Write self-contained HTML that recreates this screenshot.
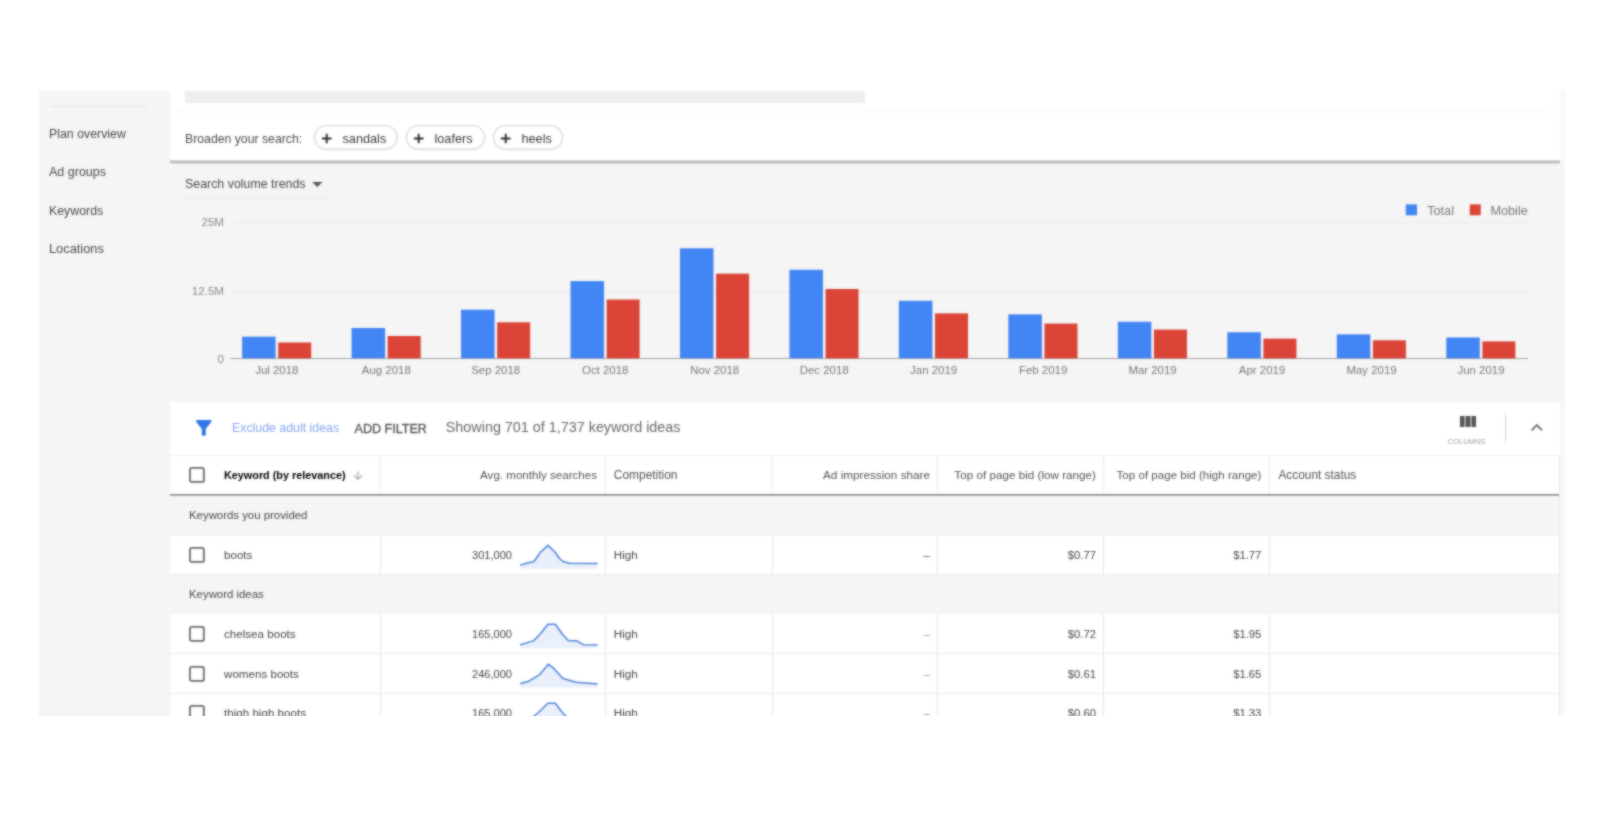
<!DOCTYPE html>
<html><head><meta charset="utf-8"><title>Keyword Planner</title>
<style>
html,body{margin:0;padding:0;background:#fff;}
body{width:1600px;height:840px;position:relative;overflow:hidden;font-family:"Liberation Sans",sans-serif;}
.s{position:absolute;left:0;top:0;width:1600px;height:840px;overflow:hidden;background:#fff;}
.s>div,.s>svg{position:absolute;box-sizing:content-box;}
.t{white-space:nowrap;}
#a{filter:blur(1px);}
#b{opacity:0.34;}
</style></head><body>
<div class="s" id="a">
<div style="left:38.50px;top:91.00px;width:1526.30px;height:625.00px;background:#f5f5f5;"></div>
<div style="left:170.00px;top:91.00px;width:1390.00px;height:70.00px;background:#fff;"></div>
<div style="left:1560.00px;top:92.00px;width:4.80px;height:69.00px;background:#fafafa;"></div>
<div style="left:185.00px;top:91.00px;width:680.00px;height:11.60px;background:#eeeeee;"></div>
<div style="left:170.00px;top:107.50px;width:1380.00px;height:6.50px;background:#fdfdfd;"></div>
<div style="left:170.00px;top:160.00px;width:1390.00px;height:3.50px;background:linear-gradient(#e4e4e4,#b4b4b4 45%,#c8c8c8 75%,#efefef);"></div>
<div style="left:169.50px;top:163.00px;width:1.00px;height:553.00px;background:#fbfbfb;"></div>
<div style="left:51.00px;top:105.50px;width:96.50px;height:1.00px;background:#e6e6e6;"></div>
<div class="t" style="top:124px;height:20px;line-height:20px;font-size:12.35px;color:#4c4c4c;left:49.00px;">Plan overview</div>
<div class="t" style="top:162px;height:20px;line-height:20px;font-size:12.5px;color:#4c4c4c;left:49.00px;">Ad groups</div>
<div class="t" style="top:201px;height:20px;line-height:20px;font-size:12.35px;color:#4c4c4c;left:49.00px;">Keywords</div>
<div class="t" style="top:238px;height:21px;line-height:21px;font-size:12.8px;color:#4c4c4c;left:49.00px;">Locations</div>
<div class="t" style="top:129px;height:20px;line-height:20px;font-size:12.25px;color:#4c4c4c;left:185.00px;">Broaden your search:</div>
<svg style="left:312px;top:122.5px" width="87.5" height="30" viewBox="0 0 87.5 30"><rect x="2.5" y="2.9" width="82.5" height="23.6" rx="12" fill="none" stroke="#000" stroke-opacity="0.05" stroke-width="2.4"/><rect x="2.5" y="2.5" width="82.5" height="23.6" rx="12" fill="#fff" stroke="#d4d4d4" stroke-width="1"/><path d="M9.9 15.5h9.6M14.7 10.8v9.4" stroke="#2c2c2c" stroke-width="1.9" fill="none"/></svg>
<div class="t" style="top:129px;height:20px;line-height:20px;font-size:12.7px;color:#3c3c3c;left:342.50px;">sandals</div>
<svg style="left:404px;top:122.5px" width="83" height="30" viewBox="0 0 83 30"><rect x="2.5" y="2.9" width="78" height="23.6" rx="12" fill="none" stroke="#000" stroke-opacity="0.05" stroke-width="2.4"/><rect x="2.5" y="2.5" width="78" height="23.6" rx="12" fill="#fff" stroke="#d4d4d4" stroke-width="1"/><path d="M9.9 15.5h9.6M14.7 10.8v9.4" stroke="#2c2c2c" stroke-width="1.9" fill="none"/></svg>
<div class="t" style="top:129px;height:20px;line-height:20px;font-size:12.7px;color:#3c3c3c;left:434.50px;">loafers</div>
<svg style="left:491px;top:122.5px" width="74" height="30" viewBox="0 0 74 30"><rect x="2.5" y="2.9" width="69" height="23.6" rx="12" fill="none" stroke="#000" stroke-opacity="0.05" stroke-width="2.4"/><rect x="2.5" y="2.5" width="69" height="23.6" rx="12" fill="#fff" stroke="#d4d4d4" stroke-width="1"/><path d="M9.9 15.5h9.6M14.7 10.8v9.4" stroke="#2c2c2c" stroke-width="1.9" fill="none"/></svg>
<div class="t" style="top:129px;height:20px;line-height:20px;font-size:12.7px;color:#3c3c3c;left:521.50px;">heels</div>
<div class="t" style="top:174px;height:20px;line-height:20px;font-size:12.4px;color:#4c4c4c;left:185.00px;">Search volume trends</div>
<svg style="left:312.2px;top:181.9px" width="11" height="6" viewBox="0 0 11 6"><path d="M0.2 0h10.2L5.3 5.1z" fill="#555"/></svg>
<div style="left:184.00px;top:198.00px;width:146.00px;height:1.00px;background:#e6e6e6;"></div>
<div style="left:233.00px;top:221.60px;width:1295.00px;height:1.20px;background:#ebebeb;"></div>
<div style="left:233.00px;top:290.90px;width:1295.00px;height:1.30px;background:#eaeaea;"></div>
<div style="left:230.00px;top:357.80px;width:1298.00px;height:1.20px;background:#a4a4a4;"></div>
<div class="t" style="top:212px;height:20px;line-height:20px;font-size:11.6px;color:#8a8a8a;right:1376.00px;">25M</div>
<div class="t" style="top:281px;height:20px;line-height:20px;font-size:11.6px;color:#8a8a8a;right:1376.00px;">12.5M</div>
<div class="t" style="top:349px;height:20px;line-height:20px;font-size:11.6px;color:#8a8a8a;right:1376.00px;">0</div>
<div class="t" style="top:360px;height:20px;line-height:20px;font-size:11.45px;color:#7a7a7a;left:126.80px;width:300px;text-align:center;">Jul 2018</div>
<div class="t" style="top:360px;height:20px;line-height:20px;font-size:11.45px;color:#7a7a7a;left:236.27px;width:300px;text-align:center;">Aug 2018</div>
<div class="t" style="top:360px;height:20px;line-height:20px;font-size:11.45px;color:#7a7a7a;left:345.74px;width:300px;text-align:center;">Sep 2018</div>
<div class="t" style="top:360px;height:20px;line-height:20px;font-size:11.45px;color:#7a7a7a;left:455.21px;width:300px;text-align:center;">Oct 2018</div>
<div class="t" style="top:360px;height:20px;line-height:20px;font-size:11.45px;color:#7a7a7a;left:564.68px;width:300px;text-align:center;">Nov 2018</div>
<div class="t" style="top:360px;height:20px;line-height:20px;font-size:11.45px;color:#7a7a7a;left:674.15px;width:300px;text-align:center;">Dec 2018</div>
<div class="t" style="top:360px;height:20px;line-height:20px;font-size:11.45px;color:#7a7a7a;left:783.62px;width:300px;text-align:center;">Jan 2019</div>
<div class="t" style="top:360px;height:20px;line-height:20px;font-size:11.45px;color:#7a7a7a;left:893.09px;width:300px;text-align:center;">Feb 2019</div>
<div class="t" style="top:360px;height:20px;line-height:20px;font-size:11.45px;color:#7a7a7a;left:1002.56px;width:300px;text-align:center;">Mar 2019</div>
<div class="t" style="top:360px;height:20px;line-height:20px;font-size:11.45px;color:#7a7a7a;left:1112.03px;width:300px;text-align:center;">Apr 2019</div>
<div class="t" style="top:360px;height:20px;line-height:20px;font-size:11.45px;color:#7a7a7a;left:1221.50px;width:300px;text-align:center;">May 2019</div>
<div class="t" style="top:360px;height:20px;line-height:20px;font-size:11.45px;color:#7a7a7a;left:1330.97px;width:300px;text-align:center;">Jun 2019</div>
<svg style="left:0;top:195px" width="1600" height="170" viewBox="0 0 1600 170"><rect x="242.10" y="141.70" width="33.5" height="21.60" fill="#4285f4"/><rect x="278.20" y="147.50" width="33" height="15.80" fill="#db4437"/><rect x="351.57" y="133.00" width="33.5" height="30.30" fill="#4285f4"/><rect x="387.67" y="141.00" width="33" height="22.30" fill="#db4437"/><rect x="461.04" y="114.70" width="33.5" height="48.60" fill="#4285f4"/><rect x="497.14" y="127.30" width="33" height="36.00" fill="#db4437"/><rect x="570.51" y="86.10" width="33.5" height="77.20" fill="#4285f4"/><rect x="606.61" y="104.50" width="33" height="58.80" fill="#db4437"/><rect x="679.98" y="53.30" width="33.5" height="110.00" fill="#4285f4"/><rect x="716.08" y="78.70" width="33" height="84.60" fill="#db4437"/><rect x="789.45" y="74.80" width="33.5" height="88.50" fill="#4285f4"/><rect x="825.55" y="94.00" width="33" height="69.30" fill="#db4437"/><rect x="898.92" y="105.80" width="33.5" height="57.50" fill="#4285f4"/><rect x="935.02" y="118.40" width="33" height="44.90" fill="#db4437"/><rect x="1008.39" y="119.40" width="33.5" height="43.90" fill="#4285f4"/><rect x="1044.49" y="128.60" width="33" height="34.70" fill="#db4437"/><rect x="1117.86" y="126.80" width="33.5" height="36.50" fill="#4285f4"/><rect x="1153.96" y="134.60" width="33" height="28.70" fill="#db4437"/><rect x="1227.33" y="137.30" width="33.5" height="26.00" fill="#4285f4"/><rect x="1263.43" y="143.60" width="33" height="19.70" fill="#db4437"/><rect x="1336.80" y="139.40" width="33.5" height="23.90" fill="#4285f4"/><rect x="1372.90" y="145.30" width="33" height="18.00" fill="#db4437"/><rect x="1446.27" y="142.50" width="33.5" height="20.80" fill="#4285f4"/><rect x="1482.37" y="146.40" width="33" height="16.90" fill="#db4437"/><rect x="1405.8" y="9.4" width="11.2" height="10.9" fill="#4285f4"/><rect x="1469.8" y="9.4" width="10.9" height="10.9" fill="#db4437"/></svg>
<div class="t" style="top:201px;height:20px;line-height:20px;font-size:12.7px;color:#7a7a7a;left:1427.20px;">Total</div>
<div class="t" style="top:201px;height:20px;line-height:20px;font-size:12.7px;color:#7a7a7a;left:1490.40px;">Mobile</div>
<div style="left:170.00px;top:401.50px;width:1390.00px;height:54.50px;background:#fff;"></div>
<svg style="left:196.3px;top:420px" width="15.6" height="15.8" viewBox="4 4 16 16"><path d="M4.25 5.61C6.27 8.2 10 13 10 13v6c0 .55.45 1 1 1h2c.55 0 1-.45 1-1v-6s3.72-4.8 5.74-7.39c.51-.66.04-1.61-.79-1.61H5.04c-.83 0-1.3.95-.79 1.61z" fill="#2f78e8"/></svg>
<div class="t" style="top:418px;height:20px;line-height:20px;font-size:12.35px;color:#86a8f0;left:232.00px;">Exclude adult ideas</div>
<div class="t" style="top:419px;height:20px;line-height:20px;font-size:12.59px;color:#555;left:354.50px;-webkit-text-stroke:0.3px #555;">ADD FILTER</div>
<div class="t" style="top:417px;height:20px;line-height:20px;font-size:14.36px;color:#686868;left:445.80px;">Showing 701 of 1,737 keyword ideas</div>
<div style="left:1459.80px;top:415.70px;width:16.10px;height:11.60px;background:#a6a6a6;"></div>
<div style="left:1459.70px;top:415.60px;width:4.40px;height:11.70px;background:#555;"></div>
<div style="left:1465.60px;top:415.60px;width:4.40px;height:11.70px;background:#555;"></div>
<div style="left:1471.50px;top:415.60px;width:4.40px;height:11.70px;background:#555;"></div>
<div class="t" style="top:431px;height:21px;line-height:21px;font-size:7.5px;color:#a0a0a0;left:1316.50px;width:300px;text-align:center;">COLUMNS</div>
<div style="left:1504.80px;top:412.50px;width:1.40px;height:30.50px;background:#d6d6d6;"></div>
<svg style="left:1530px;top:421.8px" width="14" height="10" viewBox="0 0 14 10"><path d="M1.7 8.4L6.9 3.2l5.2 5.2" fill="none" stroke="#707070" stroke-width="1.9"/></svg>
<div style="left:1560.00px;top:401.50px;width:4.80px;height:314.50px;background:#f8f8f8;"></div>
<div style="left:170.00px;top:456.00px;width:1390.00px;height:260.00px;background:#f5f5f7;"></div>
<div style="left:170.00px;top:456.00px;width:1390.00px;height:38.00px;background:#fff;"></div>
<div style="left:170.00px;top:455.00px;width:1390.00px;height:1.00px;background:#eeeeee;"></div>
<div style="left:170.00px;top:493.70px;width:1390.00px;height:2.30px;background:linear-gradient(#8a8a8a,#8a8a8a 55%,#d8d8d8);"></div>
<svg style="left:189.1px;top:466.80px" width="15.8" height="15.8" viewBox="0 0 15.8 15.8"><rect x="0.95" y="0.95" width="13.9" height="13.9" rx="1.7" fill="#fff" stroke="#6a6a6a" stroke-width="1.8"/></svg>
<div class="t" style="top:465px;height:20px;line-height:20px;font-size:10.83px;color:#000;font-weight:700;left:224.00px;">Keyword (by relevance)</div>
<svg style="left:353.2px;top:471.4px" width="10" height="9" viewBox="0 0 10 9"><path d="M5 0.3v7.6M0.9 4.2L5 8.3l4.1-4.1" fill="none" stroke="#b2b2b2" stroke-width="1.3"/></svg>
<div class="t" style="top:465px;height:20px;line-height:20px;font-size:11.59px;color:#545454;right:1003.00px;">Avg. monthly searches</div>
<div class="t" style="top:465px;height:20px;line-height:20px;font-size:11.94px;color:#545454;left:613.80px;">Competition</div>
<div class="t" style="top:464px;height:21px;line-height:21px;font-size:11.74px;color:#545454;right:670.00px;">Ad impression share</div>
<div class="t" style="top:464px;height:21px;line-height:21px;font-size:11.7px;color:#545454;right:504.00px;">Top of page bid (low range)</div>
<div class="t" style="top:465px;height:20px;line-height:20px;font-size:11.59px;color:#545454;right:338.60px;">Top of page bid (high range)</div>
<div class="t" style="top:465px;height:20px;line-height:20px;font-size:11.89px;color:#545454;left:1278.40px;">Account status</div>
<div class="t" style="top:505px;height:20px;line-height:20px;font-size:11.4px;color:#4a4a4a;left:189.00px;">Keywords you provided</div>
<div class="t" style="top:584px;height:20px;line-height:20px;font-size:11.4px;color:#4a4a4a;left:189.00px;">Keyword ideas</div>
<div style="left:170.00px;top:536.30px;width:1390.00px;height:38.20px;background:#fff;"></div>
<svg style="left:189.1px;top:546.90px" width="15.8" height="15.8" viewBox="0 0 15.8 15.8"><rect x="0.95" y="0.95" width="13.9" height="13.9" rx="1.7" fill="#fff" stroke="#6a6a6a" stroke-width="1.8"/></svg>
<div class="t" style="top:544px;height:21px;line-height:21px;font-size:11.61px;color:#474747;left:224.00px;">boots</div>
<div class="t" style="top:545px;height:20px;line-height:20px;font-size:11.07px;color:#474747;right:1088.00px;">301,000</div>
<svg style="left:520px;top:542.30px" width="78" height="30" viewBox="0 0 78 30"><path d="M0.5 23.1 L7.5 21.0 L14.0 19.5 L20.4 10.3 L27.9 3.4 L34.3 9.2 L39.7 16.7 L42.9 19.5 L49.3 21.2 L77.2 21.6 L77.2 26.7 L0.5 26.7z" fill="#e9f0fc"/><path d="M0.5 23.1 L7.5 21.0 L14.0 19.5 L20.4 10.3 L27.9 3.4 L34.3 9.2 L39.7 16.7 L42.9 19.5 L49.3 21.2 L77.2 21.6" fill="none" stroke="#4f84d8" stroke-width="1.5" stroke-linejoin="round" stroke-linecap="round"/></svg>
<div class="t" style="top:544px;height:21px;line-height:21px;font-size:11.67px;color:#474747;left:613.80px;">High</div>
<div class="t" style="top:545px;height:20px;line-height:20px;font-size:11.6px;color:#4a4a4a;right:670.00px;">–</div>
<div class="t" style="top:545px;height:20px;line-height:20px;font-size:11.3px;color:#474747;right:504.00px;">$0.77</div>
<div class="t" style="top:545px;height:20px;line-height:20px;font-size:11.3px;color:#474747;right:338.60px;">$1.77</div>
<div style="left:170.00px;top:614.00px;width:1390.00px;height:39.00px;background:#fff;"></div>
<svg style="left:189.1px;top:626.40px" width="15.8" height="15.8" viewBox="0 0 15.8 15.8"><rect x="0.95" y="0.95" width="13.9" height="13.9" rx="1.7" fill="#fff" stroke="#6a6a6a" stroke-width="1.8"/></svg>
<div class="t" style="top:623px;height:21px;line-height:21px;font-size:11.61px;color:#474747;left:224.00px;">chelsea boots</div>
<div class="t" style="top:624px;height:20px;line-height:20px;font-size:11.07px;color:#474747;right:1088.00px;">165,000</div>
<svg style="left:520px;top:620.00px" width="78" height="30" viewBox="0 0 78 30"><path d="M0.5 24.7 L14.0 20.6 L21.5 12.5 L27.9 4.3 L35.4 4.3 L41.8 13.5 L48.2 20.6 L56.8 21.0 L63.3 24.7 L77.2 24.9 L77.2 28.5 L0.5 28.5z" fill="#e9f0fc"/><path d="M0.5 24.7 L14.0 20.6 L21.5 12.5 L27.9 4.3 L35.4 4.3 L41.8 13.5 L48.2 20.6 L56.8 21.0 L63.3 24.7 L77.2 24.9" fill="none" stroke="#4f84d8" stroke-width="1.5" stroke-linejoin="round" stroke-linecap="round"/></svg>
<div class="t" style="top:623px;height:21px;line-height:21px;font-size:11.67px;color:#474747;left:613.80px;">High</div>
<div class="t" style="top:624px;height:20px;line-height:20px;font-size:11.6px;color:#9a9a9a;right:670.00px;">–</div>
<div class="t" style="top:624px;height:20px;line-height:20px;font-size:11.3px;color:#474747;right:504.00px;">$0.72</div>
<div class="t" style="top:624px;height:20px;line-height:20px;font-size:11.3px;color:#474747;right:338.60px;">$1.95</div>
<div style="left:170.00px;top:653.00px;width:1390.00px;height:40.00px;background:#fff;"></div>
<svg style="left:189.1px;top:665.90px" width="15.8" height="15.8" viewBox="0 0 15.8 15.8"><rect x="0.95" y="0.95" width="13.9" height="13.9" rx="1.7" fill="#fff" stroke="#6a6a6a" stroke-width="1.8"/></svg>
<div class="t" style="top:663px;height:21px;line-height:21px;font-size:11.61px;color:#474747;left:224.00px;">womens boots</div>
<div class="t" style="top:664px;height:20px;line-height:20px;font-size:11.07px;color:#474747;right:1088.00px;">246,000</div>
<svg style="left:520px;top:659.00px" width="78" height="30" viewBox="0 0 78 30"><path d="M0.5 24.5 L8.6 22.3 L19.3 15.9 L28.3 5.2 L34.3 9.9 L42.9 19.5 L55.8 23.2 L77.2 24.9 L77.2 28.5 L0.5 28.5z" fill="#e9f0fc"/><path d="M0.5 24.5 L8.6 22.3 L19.3 15.9 L28.3 5.2 L34.3 9.9 L42.9 19.5 L55.8 23.2 L77.2 24.9" fill="none" stroke="#4f84d8" stroke-width="1.5" stroke-linejoin="round" stroke-linecap="round"/></svg>
<div class="t" style="top:663px;height:21px;line-height:21px;font-size:11.67px;color:#474747;left:613.80px;">High</div>
<div class="t" style="top:664px;height:20px;line-height:20px;font-size:11.6px;color:#9a9a9a;right:670.00px;">–</div>
<div class="t" style="top:664px;height:20px;line-height:20px;font-size:11.3px;color:#474747;right:504.00px;">$0.61</div>
<div class="t" style="top:664px;height:20px;line-height:20px;font-size:11.3px;color:#474747;right:338.60px;">$1.65</div>
<div style="left:170.00px;top:693.00px;width:1390.00px;height:39.00px;background:#fff;"></div>
<svg style="left:189.1px;top:705.40px" width="15.8" height="15.8" viewBox="0 0 15.8 15.8"><rect x="0.95" y="0.95" width="13.9" height="13.9" rx="1.7" fill="#fff" stroke="#6a6a6a" stroke-width="1.8"/></svg>
<div class="t" style="top:702px;height:21px;line-height:21px;font-size:11.61px;color:#474747;left:224.00px;">thigh high boots</div>
<div class="t" style="top:703px;height:20px;line-height:20px;font-size:11.07px;color:#474747;right:1088.00px;">165,000</div>
<svg style="left:520px;top:699.00px" width="78" height="30" viewBox="0 0 78 30"><path d="M0.5 24.0 L14.0 17.5 L21.5 10.5 L27.9 4.2 L35.4 4.2 L41.8 13.0 L48.2 20.0 L77.2 25.0 L77.2 28.6 L0.5 28.6z" fill="#e9f0fc"/><path d="M0.5 24.0 L14.0 17.5 L21.5 10.5 L27.9 4.2 L35.4 4.2 L41.8 13.0 L48.2 20.0 L77.2 25.0" fill="none" stroke="#4f84d8" stroke-width="1.5" stroke-linejoin="round" stroke-linecap="round"/></svg>
<div class="t" style="top:702px;height:21px;line-height:21px;font-size:11.67px;color:#474747;left:613.80px;">High</div>
<div class="t" style="top:703px;height:20px;line-height:20px;font-size:11.6px;color:#9a9a9a;right:670.00px;">–</div>
<div class="t" style="top:703px;height:20px;line-height:20px;font-size:11.3px;color:#474747;right:504.00px;">$0.60</div>
<div class="t" style="top:703px;height:20px;line-height:20px;font-size:11.3px;color:#474747;right:338.60px;">$1.33</div>
<div style="left:170.00px;top:574.00px;width:1390.00px;height:1.00px;background:#ededed;"></div>
<div style="left:170.00px;top:653.00px;width:1390.00px;height:1.00px;background:#ededed;"></div>
<div style="left:170.00px;top:693.00px;width:1390.00px;height:1.00px;background:#ededed;"></div>
<div style="left:170.00px;top:732.00px;width:1390.00px;height:1.00px;background:#ededed;"></div>
<div style="left:380.00px;top:456.00px;width:1.00px;height:38.00px;background:#ededed;"></div>
<div style="left:380.00px;top:536.30px;width:1.00px;height:38.20px;background:#e7e7e7;"></div>
<div style="left:380.00px;top:614.00px;width:1.00px;height:39.00px;background:#e7e7e7;"></div>
<div style="left:380.00px;top:653.00px;width:1.00px;height:40.00px;background:#e7e7e7;"></div>
<div style="left:380.00px;top:693.00px;width:1.00px;height:39.00px;background:#e7e7e7;"></div>
<div style="left:605.00px;top:456.00px;width:1.00px;height:38.00px;background:#ededed;"></div>
<div style="left:605.00px;top:536.30px;width:1.00px;height:38.20px;background:#e7e7e7;"></div>
<div style="left:605.00px;top:614.00px;width:1.00px;height:39.00px;background:#e7e7e7;"></div>
<div style="left:605.00px;top:653.00px;width:1.00px;height:40.00px;background:#e7e7e7;"></div>
<div style="left:605.00px;top:693.00px;width:1.00px;height:39.00px;background:#e7e7e7;"></div>
<div style="left:772.00px;top:456.00px;width:1.00px;height:38.00px;background:#ededed;"></div>
<div style="left:772.00px;top:536.30px;width:1.00px;height:38.20px;background:#e7e7e7;"></div>
<div style="left:772.00px;top:614.00px;width:1.00px;height:39.00px;background:#e7e7e7;"></div>
<div style="left:772.00px;top:653.00px;width:1.00px;height:40.00px;background:#e7e7e7;"></div>
<div style="left:772.00px;top:693.00px;width:1.00px;height:39.00px;background:#e7e7e7;"></div>
<div style="left:937.00px;top:456.00px;width:1.00px;height:38.00px;background:#ededed;"></div>
<div style="left:937.00px;top:536.30px;width:1.00px;height:38.20px;background:#e7e7e7;"></div>
<div style="left:937.00px;top:614.00px;width:1.00px;height:39.00px;background:#e7e7e7;"></div>
<div style="left:937.00px;top:653.00px;width:1.00px;height:40.00px;background:#e7e7e7;"></div>
<div style="left:937.00px;top:693.00px;width:1.00px;height:39.00px;background:#e7e7e7;"></div>
<div style="left:1103.00px;top:456.00px;width:1.00px;height:38.00px;background:#ededed;"></div>
<div style="left:1103.00px;top:536.30px;width:1.00px;height:38.20px;background:#e7e7e7;"></div>
<div style="left:1103.00px;top:614.00px;width:1.00px;height:39.00px;background:#e7e7e7;"></div>
<div style="left:1103.00px;top:653.00px;width:1.00px;height:40.00px;background:#e7e7e7;"></div>
<div style="left:1103.00px;top:693.00px;width:1.00px;height:39.00px;background:#e7e7e7;"></div>
<div style="left:1269.00px;top:456.00px;width:1.00px;height:38.00px;background:#ededed;"></div>
<div style="left:1269.00px;top:536.30px;width:1.00px;height:38.20px;background:#e7e7e7;"></div>
<div style="left:1269.00px;top:614.00px;width:1.00px;height:39.00px;background:#e7e7e7;"></div>
<div style="left:1269.00px;top:653.00px;width:1.00px;height:40.00px;background:#e7e7e7;"></div>
<div style="left:1269.00px;top:693.00px;width:1.00px;height:39.00px;background:#e7e7e7;"></div>
<div style="left:1559.00px;top:456.00px;width:1.00px;height:260.00px;background:#ebe9ea;"></div>
</div>
<div class="s" id="b">
<div style="left:38.50px;top:91.00px;width:1526.30px;height:625.00px;background:#f5f5f5;"></div>
<div style="left:170.00px;top:91.00px;width:1390.00px;height:70.00px;background:#fff;"></div>
<div style="left:1560.00px;top:92.00px;width:4.80px;height:69.00px;background:#fafafa;"></div>
<div style="left:185.00px;top:91.00px;width:680.00px;height:11.60px;background:#eeeeee;"></div>
<div style="left:170.00px;top:107.50px;width:1380.00px;height:6.50px;background:#fdfdfd;"></div>
<div style="left:170.00px;top:160.00px;width:1390.00px;height:3.50px;background:linear-gradient(#e4e4e4,#b4b4b4 45%,#c8c8c8 75%,#efefef);"></div>
<div style="left:169.50px;top:163.00px;width:1.00px;height:553.00px;background:#fbfbfb;"></div>
<div style="left:51.00px;top:105.50px;width:96.50px;height:1.00px;background:#e6e6e6;"></div>
<div class="t" style="top:124px;height:20px;line-height:20px;font-size:12.35px;color:#4c4c4c;left:49.00px;">Plan overview</div>
<div class="t" style="top:162px;height:20px;line-height:20px;font-size:12.5px;color:#4c4c4c;left:49.00px;">Ad groups</div>
<div class="t" style="top:201px;height:20px;line-height:20px;font-size:12.35px;color:#4c4c4c;left:49.00px;">Keywords</div>
<div class="t" style="top:238px;height:21px;line-height:21px;font-size:12.8px;color:#4c4c4c;left:49.00px;">Locations</div>
<div class="t" style="top:129px;height:20px;line-height:20px;font-size:12.25px;color:#4c4c4c;left:185.00px;">Broaden your search:</div>
<svg style="left:312px;top:122.5px" width="87.5" height="30" viewBox="0 0 87.5 30"><rect x="2.5" y="2.9" width="82.5" height="23.6" rx="12" fill="none" stroke="#000" stroke-opacity="0.05" stroke-width="2.4"/><rect x="2.5" y="2.5" width="82.5" height="23.6" rx="12" fill="#fff" stroke="#d4d4d4" stroke-width="1"/><path d="M9.9 15.5h9.6M14.7 10.8v9.4" stroke="#2c2c2c" stroke-width="1.9" fill="none"/></svg>
<div class="t" style="top:129px;height:20px;line-height:20px;font-size:12.7px;color:#3c3c3c;left:342.50px;">sandals</div>
<svg style="left:404px;top:122.5px" width="83" height="30" viewBox="0 0 83 30"><rect x="2.5" y="2.9" width="78" height="23.6" rx="12" fill="none" stroke="#000" stroke-opacity="0.05" stroke-width="2.4"/><rect x="2.5" y="2.5" width="78" height="23.6" rx="12" fill="#fff" stroke="#d4d4d4" stroke-width="1"/><path d="M9.9 15.5h9.6M14.7 10.8v9.4" stroke="#2c2c2c" stroke-width="1.9" fill="none"/></svg>
<div class="t" style="top:129px;height:20px;line-height:20px;font-size:12.7px;color:#3c3c3c;left:434.50px;">loafers</div>
<svg style="left:491px;top:122.5px" width="74" height="30" viewBox="0 0 74 30"><rect x="2.5" y="2.9" width="69" height="23.6" rx="12" fill="none" stroke="#000" stroke-opacity="0.05" stroke-width="2.4"/><rect x="2.5" y="2.5" width="69" height="23.6" rx="12" fill="#fff" stroke="#d4d4d4" stroke-width="1"/><path d="M9.9 15.5h9.6M14.7 10.8v9.4" stroke="#2c2c2c" stroke-width="1.9" fill="none"/></svg>
<div class="t" style="top:129px;height:20px;line-height:20px;font-size:12.7px;color:#3c3c3c;left:521.50px;">heels</div>
<div class="t" style="top:174px;height:20px;line-height:20px;font-size:12.4px;color:#4c4c4c;left:185.00px;">Search volume trends</div>
<svg style="left:312.2px;top:181.9px" width="11" height="6" viewBox="0 0 11 6"><path d="M0.2 0h10.2L5.3 5.1z" fill="#555"/></svg>
<div style="left:184.00px;top:198.00px;width:146.00px;height:1.00px;background:#e6e6e6;"></div>
<div style="left:233.00px;top:221.60px;width:1295.00px;height:1.20px;background:#ebebeb;"></div>
<div style="left:233.00px;top:290.90px;width:1295.00px;height:1.30px;background:#eaeaea;"></div>
<div style="left:230.00px;top:357.80px;width:1298.00px;height:1.20px;background:#a4a4a4;"></div>
<div class="t" style="top:212px;height:20px;line-height:20px;font-size:11.6px;color:#8a8a8a;right:1376.00px;">25M</div>
<div class="t" style="top:281px;height:20px;line-height:20px;font-size:11.6px;color:#8a8a8a;right:1376.00px;">12.5M</div>
<div class="t" style="top:349px;height:20px;line-height:20px;font-size:11.6px;color:#8a8a8a;right:1376.00px;">0</div>
<div class="t" style="top:360px;height:20px;line-height:20px;font-size:11.45px;color:#7a7a7a;left:126.80px;width:300px;text-align:center;">Jul 2018</div>
<div class="t" style="top:360px;height:20px;line-height:20px;font-size:11.45px;color:#7a7a7a;left:236.27px;width:300px;text-align:center;">Aug 2018</div>
<div class="t" style="top:360px;height:20px;line-height:20px;font-size:11.45px;color:#7a7a7a;left:345.74px;width:300px;text-align:center;">Sep 2018</div>
<div class="t" style="top:360px;height:20px;line-height:20px;font-size:11.45px;color:#7a7a7a;left:455.21px;width:300px;text-align:center;">Oct 2018</div>
<div class="t" style="top:360px;height:20px;line-height:20px;font-size:11.45px;color:#7a7a7a;left:564.68px;width:300px;text-align:center;">Nov 2018</div>
<div class="t" style="top:360px;height:20px;line-height:20px;font-size:11.45px;color:#7a7a7a;left:674.15px;width:300px;text-align:center;">Dec 2018</div>
<div class="t" style="top:360px;height:20px;line-height:20px;font-size:11.45px;color:#7a7a7a;left:783.62px;width:300px;text-align:center;">Jan 2019</div>
<div class="t" style="top:360px;height:20px;line-height:20px;font-size:11.45px;color:#7a7a7a;left:893.09px;width:300px;text-align:center;">Feb 2019</div>
<div class="t" style="top:360px;height:20px;line-height:20px;font-size:11.45px;color:#7a7a7a;left:1002.56px;width:300px;text-align:center;">Mar 2019</div>
<div class="t" style="top:360px;height:20px;line-height:20px;font-size:11.45px;color:#7a7a7a;left:1112.03px;width:300px;text-align:center;">Apr 2019</div>
<div class="t" style="top:360px;height:20px;line-height:20px;font-size:11.45px;color:#7a7a7a;left:1221.50px;width:300px;text-align:center;">May 2019</div>
<div class="t" style="top:360px;height:20px;line-height:20px;font-size:11.45px;color:#7a7a7a;left:1330.97px;width:300px;text-align:center;">Jun 2019</div>
<svg style="left:0;top:195px" width="1600" height="170" viewBox="0 0 1600 170"><rect x="242.10" y="141.70" width="33.5" height="21.60" fill="#4285f4"/><rect x="278.20" y="147.50" width="33" height="15.80" fill="#db4437"/><rect x="351.57" y="133.00" width="33.5" height="30.30" fill="#4285f4"/><rect x="387.67" y="141.00" width="33" height="22.30" fill="#db4437"/><rect x="461.04" y="114.70" width="33.5" height="48.60" fill="#4285f4"/><rect x="497.14" y="127.30" width="33" height="36.00" fill="#db4437"/><rect x="570.51" y="86.10" width="33.5" height="77.20" fill="#4285f4"/><rect x="606.61" y="104.50" width="33" height="58.80" fill="#db4437"/><rect x="679.98" y="53.30" width="33.5" height="110.00" fill="#4285f4"/><rect x="716.08" y="78.70" width="33" height="84.60" fill="#db4437"/><rect x="789.45" y="74.80" width="33.5" height="88.50" fill="#4285f4"/><rect x="825.55" y="94.00" width="33" height="69.30" fill="#db4437"/><rect x="898.92" y="105.80" width="33.5" height="57.50" fill="#4285f4"/><rect x="935.02" y="118.40" width="33" height="44.90" fill="#db4437"/><rect x="1008.39" y="119.40" width="33.5" height="43.90" fill="#4285f4"/><rect x="1044.49" y="128.60" width="33" height="34.70" fill="#db4437"/><rect x="1117.86" y="126.80" width="33.5" height="36.50" fill="#4285f4"/><rect x="1153.96" y="134.60" width="33" height="28.70" fill="#db4437"/><rect x="1227.33" y="137.30" width="33.5" height="26.00" fill="#4285f4"/><rect x="1263.43" y="143.60" width="33" height="19.70" fill="#db4437"/><rect x="1336.80" y="139.40" width="33.5" height="23.90" fill="#4285f4"/><rect x="1372.90" y="145.30" width="33" height="18.00" fill="#db4437"/><rect x="1446.27" y="142.50" width="33.5" height="20.80" fill="#4285f4"/><rect x="1482.37" y="146.40" width="33" height="16.90" fill="#db4437"/><rect x="1405.8" y="9.4" width="11.2" height="10.9" fill="#4285f4"/><rect x="1469.8" y="9.4" width="10.9" height="10.9" fill="#db4437"/></svg>
<div class="t" style="top:201px;height:20px;line-height:20px;font-size:12.7px;color:#7a7a7a;left:1427.20px;">Total</div>
<div class="t" style="top:201px;height:20px;line-height:20px;font-size:12.7px;color:#7a7a7a;left:1490.40px;">Mobile</div>
<div style="left:170.00px;top:401.50px;width:1390.00px;height:54.50px;background:#fff;"></div>
<svg style="left:196.3px;top:420px" width="15.6" height="15.8" viewBox="4 4 16 16"><path d="M4.25 5.61C6.27 8.2 10 13 10 13v6c0 .55.45 1 1 1h2c.55 0 1-.45 1-1v-6s3.72-4.8 5.74-7.39c.51-.66.04-1.61-.79-1.61H5.04c-.83 0-1.3.95-.79 1.61z" fill="#2f78e8"/></svg>
<div class="t" style="top:418px;height:20px;line-height:20px;font-size:12.35px;color:#86a8f0;left:232.00px;">Exclude adult ideas</div>
<div class="t" style="top:419px;height:20px;line-height:20px;font-size:12.59px;color:#555;left:354.50px;-webkit-text-stroke:0.3px #555;">ADD FILTER</div>
<div class="t" style="top:417px;height:20px;line-height:20px;font-size:14.36px;color:#686868;left:445.80px;">Showing 701 of 1,737 keyword ideas</div>
<div style="left:1459.80px;top:415.70px;width:16.10px;height:11.60px;background:#a6a6a6;"></div>
<div style="left:1459.70px;top:415.60px;width:4.40px;height:11.70px;background:#555;"></div>
<div style="left:1465.60px;top:415.60px;width:4.40px;height:11.70px;background:#555;"></div>
<div style="left:1471.50px;top:415.60px;width:4.40px;height:11.70px;background:#555;"></div>
<div class="t" style="top:431px;height:21px;line-height:21px;font-size:7.5px;color:#a0a0a0;left:1316.50px;width:300px;text-align:center;">COLUMNS</div>
<div style="left:1504.80px;top:412.50px;width:1.40px;height:30.50px;background:#d6d6d6;"></div>
<svg style="left:1530px;top:421.8px" width="14" height="10" viewBox="0 0 14 10"><path d="M1.7 8.4L6.9 3.2l5.2 5.2" fill="none" stroke="#707070" stroke-width="1.9"/></svg>
<div style="left:1560.00px;top:401.50px;width:4.80px;height:314.50px;background:#f8f8f8;"></div>
<div style="left:170.00px;top:456.00px;width:1390.00px;height:260.00px;background:#f5f5f7;"></div>
<div style="left:170.00px;top:456.00px;width:1390.00px;height:38.00px;background:#fff;"></div>
<div style="left:170.00px;top:455.00px;width:1390.00px;height:1.00px;background:#eeeeee;"></div>
<div style="left:170.00px;top:493.70px;width:1390.00px;height:2.30px;background:linear-gradient(#8a8a8a,#8a8a8a 55%,#d8d8d8);"></div>
<svg style="left:189.1px;top:466.80px" width="15.8" height="15.8" viewBox="0 0 15.8 15.8"><rect x="0.95" y="0.95" width="13.9" height="13.9" rx="1.7" fill="#fff" stroke="#6a6a6a" stroke-width="1.8"/></svg>
<div class="t" style="top:465px;height:20px;line-height:20px;font-size:10.83px;color:#000;font-weight:700;left:224.00px;">Keyword (by relevance)</div>
<svg style="left:353.2px;top:471.4px" width="10" height="9" viewBox="0 0 10 9"><path d="M5 0.3v7.6M0.9 4.2L5 8.3l4.1-4.1" fill="none" stroke="#b2b2b2" stroke-width="1.3"/></svg>
<div class="t" style="top:465px;height:20px;line-height:20px;font-size:11.59px;color:#545454;right:1003.00px;">Avg. monthly searches</div>
<div class="t" style="top:465px;height:20px;line-height:20px;font-size:11.94px;color:#545454;left:613.80px;">Competition</div>
<div class="t" style="top:464px;height:21px;line-height:21px;font-size:11.74px;color:#545454;right:670.00px;">Ad impression share</div>
<div class="t" style="top:464px;height:21px;line-height:21px;font-size:11.7px;color:#545454;right:504.00px;">Top of page bid (low range)</div>
<div class="t" style="top:465px;height:20px;line-height:20px;font-size:11.59px;color:#545454;right:338.60px;">Top of page bid (high range)</div>
<div class="t" style="top:465px;height:20px;line-height:20px;font-size:11.89px;color:#545454;left:1278.40px;">Account status</div>
<div class="t" style="top:505px;height:20px;line-height:20px;font-size:11.4px;color:#4a4a4a;left:189.00px;">Keywords you provided</div>
<div class="t" style="top:584px;height:20px;line-height:20px;font-size:11.4px;color:#4a4a4a;left:189.00px;">Keyword ideas</div>
<div style="left:170.00px;top:536.30px;width:1390.00px;height:38.20px;background:#fff;"></div>
<svg style="left:189.1px;top:546.90px" width="15.8" height="15.8" viewBox="0 0 15.8 15.8"><rect x="0.95" y="0.95" width="13.9" height="13.9" rx="1.7" fill="#fff" stroke="#6a6a6a" stroke-width="1.8"/></svg>
<div class="t" style="top:544px;height:21px;line-height:21px;font-size:11.61px;color:#474747;left:224.00px;">boots</div>
<div class="t" style="top:545px;height:20px;line-height:20px;font-size:11.07px;color:#474747;right:1088.00px;">301,000</div>
<svg style="left:520px;top:542.30px" width="78" height="30" viewBox="0 0 78 30"><path d="M0.5 23.1 L7.5 21.0 L14.0 19.5 L20.4 10.3 L27.9 3.4 L34.3 9.2 L39.7 16.7 L42.9 19.5 L49.3 21.2 L77.2 21.6 L77.2 26.7 L0.5 26.7z" fill="#e9f0fc"/><path d="M0.5 23.1 L7.5 21.0 L14.0 19.5 L20.4 10.3 L27.9 3.4 L34.3 9.2 L39.7 16.7 L42.9 19.5 L49.3 21.2 L77.2 21.6" fill="none" stroke="#4f84d8" stroke-width="1.5" stroke-linejoin="round" stroke-linecap="round"/></svg>
<div class="t" style="top:544px;height:21px;line-height:21px;font-size:11.67px;color:#474747;left:613.80px;">High</div>
<div class="t" style="top:545px;height:20px;line-height:20px;font-size:11.6px;color:#4a4a4a;right:670.00px;">–</div>
<div class="t" style="top:545px;height:20px;line-height:20px;font-size:11.3px;color:#474747;right:504.00px;">$0.77</div>
<div class="t" style="top:545px;height:20px;line-height:20px;font-size:11.3px;color:#474747;right:338.60px;">$1.77</div>
<div style="left:170.00px;top:614.00px;width:1390.00px;height:39.00px;background:#fff;"></div>
<svg style="left:189.1px;top:626.40px" width="15.8" height="15.8" viewBox="0 0 15.8 15.8"><rect x="0.95" y="0.95" width="13.9" height="13.9" rx="1.7" fill="#fff" stroke="#6a6a6a" stroke-width="1.8"/></svg>
<div class="t" style="top:623px;height:21px;line-height:21px;font-size:11.61px;color:#474747;left:224.00px;">chelsea boots</div>
<div class="t" style="top:624px;height:20px;line-height:20px;font-size:11.07px;color:#474747;right:1088.00px;">165,000</div>
<svg style="left:520px;top:620.00px" width="78" height="30" viewBox="0 0 78 30"><path d="M0.5 24.7 L14.0 20.6 L21.5 12.5 L27.9 4.3 L35.4 4.3 L41.8 13.5 L48.2 20.6 L56.8 21.0 L63.3 24.7 L77.2 24.9 L77.2 28.5 L0.5 28.5z" fill="#e9f0fc"/><path d="M0.5 24.7 L14.0 20.6 L21.5 12.5 L27.9 4.3 L35.4 4.3 L41.8 13.5 L48.2 20.6 L56.8 21.0 L63.3 24.7 L77.2 24.9" fill="none" stroke="#4f84d8" stroke-width="1.5" stroke-linejoin="round" stroke-linecap="round"/></svg>
<div class="t" style="top:623px;height:21px;line-height:21px;font-size:11.67px;color:#474747;left:613.80px;">High</div>
<div class="t" style="top:624px;height:20px;line-height:20px;font-size:11.6px;color:#9a9a9a;right:670.00px;">–</div>
<div class="t" style="top:624px;height:20px;line-height:20px;font-size:11.3px;color:#474747;right:504.00px;">$0.72</div>
<div class="t" style="top:624px;height:20px;line-height:20px;font-size:11.3px;color:#474747;right:338.60px;">$1.95</div>
<div style="left:170.00px;top:653.00px;width:1390.00px;height:40.00px;background:#fff;"></div>
<svg style="left:189.1px;top:665.90px" width="15.8" height="15.8" viewBox="0 0 15.8 15.8"><rect x="0.95" y="0.95" width="13.9" height="13.9" rx="1.7" fill="#fff" stroke="#6a6a6a" stroke-width="1.8"/></svg>
<div class="t" style="top:663px;height:21px;line-height:21px;font-size:11.61px;color:#474747;left:224.00px;">womens boots</div>
<div class="t" style="top:664px;height:20px;line-height:20px;font-size:11.07px;color:#474747;right:1088.00px;">246,000</div>
<svg style="left:520px;top:659.00px" width="78" height="30" viewBox="0 0 78 30"><path d="M0.5 24.5 L8.6 22.3 L19.3 15.9 L28.3 5.2 L34.3 9.9 L42.9 19.5 L55.8 23.2 L77.2 24.9 L77.2 28.5 L0.5 28.5z" fill="#e9f0fc"/><path d="M0.5 24.5 L8.6 22.3 L19.3 15.9 L28.3 5.2 L34.3 9.9 L42.9 19.5 L55.8 23.2 L77.2 24.9" fill="none" stroke="#4f84d8" stroke-width="1.5" stroke-linejoin="round" stroke-linecap="round"/></svg>
<div class="t" style="top:663px;height:21px;line-height:21px;font-size:11.67px;color:#474747;left:613.80px;">High</div>
<div class="t" style="top:664px;height:20px;line-height:20px;font-size:11.6px;color:#9a9a9a;right:670.00px;">–</div>
<div class="t" style="top:664px;height:20px;line-height:20px;font-size:11.3px;color:#474747;right:504.00px;">$0.61</div>
<div class="t" style="top:664px;height:20px;line-height:20px;font-size:11.3px;color:#474747;right:338.60px;">$1.65</div>
<div style="left:170.00px;top:693.00px;width:1390.00px;height:39.00px;background:#fff;"></div>
<svg style="left:189.1px;top:705.40px" width="15.8" height="15.8" viewBox="0 0 15.8 15.8"><rect x="0.95" y="0.95" width="13.9" height="13.9" rx="1.7" fill="#fff" stroke="#6a6a6a" stroke-width="1.8"/></svg>
<div class="t" style="top:702px;height:21px;line-height:21px;font-size:11.61px;color:#474747;left:224.00px;">thigh high boots</div>
<div class="t" style="top:703px;height:20px;line-height:20px;font-size:11.07px;color:#474747;right:1088.00px;">165,000</div>
<svg style="left:520px;top:699.00px" width="78" height="30" viewBox="0 0 78 30"><path d="M0.5 24.0 L14.0 17.5 L21.5 10.5 L27.9 4.2 L35.4 4.2 L41.8 13.0 L48.2 20.0 L77.2 25.0 L77.2 28.6 L0.5 28.6z" fill="#e9f0fc"/><path d="M0.5 24.0 L14.0 17.5 L21.5 10.5 L27.9 4.2 L35.4 4.2 L41.8 13.0 L48.2 20.0 L77.2 25.0" fill="none" stroke="#4f84d8" stroke-width="1.5" stroke-linejoin="round" stroke-linecap="round"/></svg>
<div class="t" style="top:702px;height:21px;line-height:21px;font-size:11.67px;color:#474747;left:613.80px;">High</div>
<div class="t" style="top:703px;height:20px;line-height:20px;font-size:11.6px;color:#9a9a9a;right:670.00px;">–</div>
<div class="t" style="top:703px;height:20px;line-height:20px;font-size:11.3px;color:#474747;right:504.00px;">$0.60</div>
<div class="t" style="top:703px;height:20px;line-height:20px;font-size:11.3px;color:#474747;right:338.60px;">$1.33</div>
<div style="left:170.00px;top:574.00px;width:1390.00px;height:1.00px;background:#ededed;"></div>
<div style="left:170.00px;top:653.00px;width:1390.00px;height:1.00px;background:#ededed;"></div>
<div style="left:170.00px;top:693.00px;width:1390.00px;height:1.00px;background:#ededed;"></div>
<div style="left:170.00px;top:732.00px;width:1390.00px;height:1.00px;background:#ededed;"></div>
<div style="left:380.00px;top:456.00px;width:1.00px;height:38.00px;background:#ededed;"></div>
<div style="left:380.00px;top:536.30px;width:1.00px;height:38.20px;background:#e7e7e7;"></div>
<div style="left:380.00px;top:614.00px;width:1.00px;height:39.00px;background:#e7e7e7;"></div>
<div style="left:380.00px;top:653.00px;width:1.00px;height:40.00px;background:#e7e7e7;"></div>
<div style="left:380.00px;top:693.00px;width:1.00px;height:39.00px;background:#e7e7e7;"></div>
<div style="left:605.00px;top:456.00px;width:1.00px;height:38.00px;background:#ededed;"></div>
<div style="left:605.00px;top:536.30px;width:1.00px;height:38.20px;background:#e7e7e7;"></div>
<div style="left:605.00px;top:614.00px;width:1.00px;height:39.00px;background:#e7e7e7;"></div>
<div style="left:605.00px;top:653.00px;width:1.00px;height:40.00px;background:#e7e7e7;"></div>
<div style="left:605.00px;top:693.00px;width:1.00px;height:39.00px;background:#e7e7e7;"></div>
<div style="left:772.00px;top:456.00px;width:1.00px;height:38.00px;background:#ededed;"></div>
<div style="left:772.00px;top:536.30px;width:1.00px;height:38.20px;background:#e7e7e7;"></div>
<div style="left:772.00px;top:614.00px;width:1.00px;height:39.00px;background:#e7e7e7;"></div>
<div style="left:772.00px;top:653.00px;width:1.00px;height:40.00px;background:#e7e7e7;"></div>
<div style="left:772.00px;top:693.00px;width:1.00px;height:39.00px;background:#e7e7e7;"></div>
<div style="left:937.00px;top:456.00px;width:1.00px;height:38.00px;background:#ededed;"></div>
<div style="left:937.00px;top:536.30px;width:1.00px;height:38.20px;background:#e7e7e7;"></div>
<div style="left:937.00px;top:614.00px;width:1.00px;height:39.00px;background:#e7e7e7;"></div>
<div style="left:937.00px;top:653.00px;width:1.00px;height:40.00px;background:#e7e7e7;"></div>
<div style="left:937.00px;top:693.00px;width:1.00px;height:39.00px;background:#e7e7e7;"></div>
<div style="left:1103.00px;top:456.00px;width:1.00px;height:38.00px;background:#ededed;"></div>
<div style="left:1103.00px;top:536.30px;width:1.00px;height:38.20px;background:#e7e7e7;"></div>
<div style="left:1103.00px;top:614.00px;width:1.00px;height:39.00px;background:#e7e7e7;"></div>
<div style="left:1103.00px;top:653.00px;width:1.00px;height:40.00px;background:#e7e7e7;"></div>
<div style="left:1103.00px;top:693.00px;width:1.00px;height:39.00px;background:#e7e7e7;"></div>
<div style="left:1269.00px;top:456.00px;width:1.00px;height:38.00px;background:#ededed;"></div>
<div style="left:1269.00px;top:536.30px;width:1.00px;height:38.20px;background:#e7e7e7;"></div>
<div style="left:1269.00px;top:614.00px;width:1.00px;height:39.00px;background:#e7e7e7;"></div>
<div style="left:1269.00px;top:653.00px;width:1.00px;height:40.00px;background:#e7e7e7;"></div>
<div style="left:1269.00px;top:693.00px;width:1.00px;height:39.00px;background:#e7e7e7;"></div>
<div style="left:1559.00px;top:456.00px;width:1.00px;height:260.00px;background:#ebe9ea;"></div>
</div>
<div style="position:absolute;left:0;top:716px;width:1600px;height:124px;background:#fff"></div>
</body></html>
